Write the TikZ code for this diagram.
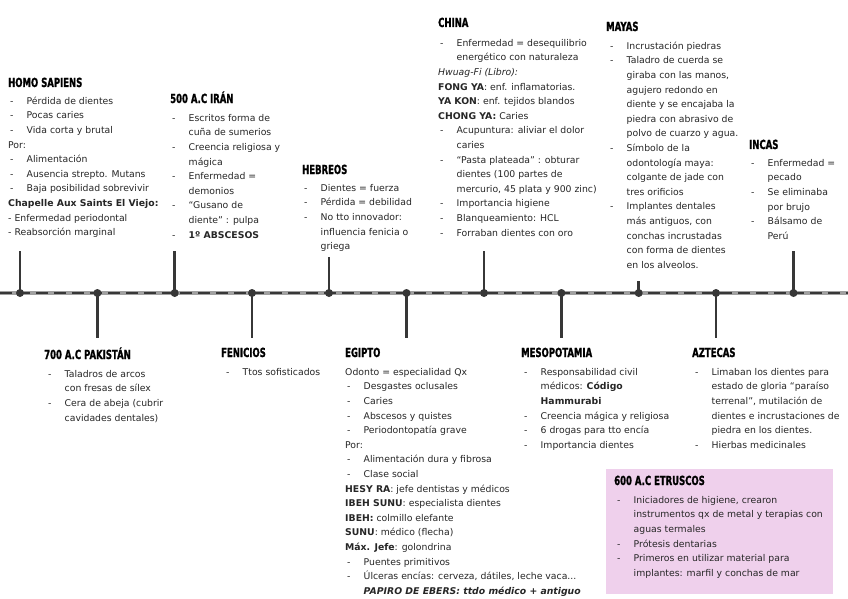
\documentclass[tikz,border=0pt]{standalone}
\usepackage{fontspec}
\setmainfont{DejaVu Sans}
\newfontfamily\titlefont{DejaVu Sans}[FakeStretch=0.68,FakeBold=1.2]
\definecolor{etr}{RGB}{239,208,236}
\definecolor{ink}{RGB}{38,38,38}
\definecolor{linegray}{RGB}{160,160,160}
\definecolor{dark}{RGB}{55,55,55}
\newcommand\itm{\makebox[18.5pt][l]{\hspace{2pt}-}}
\newcommand\cnt{\hspace*{18.5pt}}
\newcommand\fs{\rule{0pt}{10pt}}
\begin{document}
\begin{tikzpicture}[x=1pt,y=-1pt,
 ttl/.style={anchor=base west,inner sep=0pt,font=\titlefont\bfseries\fontsize{12.5}{14}\selectfont,text=black},
 body/.style={anchor=north west,inner sep=0pt,align=left,font=\fontsize{9.3}{14.6}\selectfont,text=ink},
 dot/.style={circle,fill=dark,inner sep=0pt,minimum size=8pt},
 tick/.style={draw=dark,line width=2.6pt},
 tl/.style={line width=3.5pt,draw=linegray},
 tldash/.style={line width=2.2pt,draw=dark,dash pattern=on 12pt off 6pt},
]
\useasboundingbox[fill=white] (0,0) rectangle (848,599);

% timeline
\coordinate (tlL) at (0,293);
\coordinate (tlR) at (848,293);
\draw[tl] (tlL) -- (tlR);
\draw[tldash] (tlL) -- (tlR);

% dots
\node[dot] (d0) at (20,293) {};
\node[dot] (d1) at (97.4,293) {};
\node[dot] (d2) at (174.7,293) {};
\node[dot] (d3) at (252,293) {};
\node[dot] (d4) at (329,293) {};
\node[dot] (d5) at (406.5,293) {};
\node[dot] (d6) at (484,293) {};
\node[dot] (d7) at (561.4,293) {};
\node[dot] (d8) at (638.7,293) {};
\node[dot] (d9) at (716,293) {};
\node[dot] (d10) at (793.5,293) {};

% tick ends
\coordinate (e0) at (20,251);
\coordinate (e1) at (97.4,338);
\coordinate (e2) at (174.7,251);
\coordinate (e3) at (252,338);
\coordinate (e4) at (329,257);
\coordinate (e5) at (406.5,338);
\coordinate (e6) at (484,251);
\coordinate (e7) at (561.4,338);
\coordinate (e8) at (638.7,281);
\coordinate (e9) at (716,338);
\coordinate (e10) at (793.5,251);
\foreach \i in {0,...,10} {\draw[tick] (d\i.center) -- (e\i);}

% HOMO SAPIENS
\node[ttl] (hs-t) at (8,87) {HOMO SAPIENS};
\node[body] (hs) at (8,94) {\fs\itm Pérdida de dientes\\
\itm Pocas caries\\
\itm Vida corta y brutal\\
Por:\\
\itm Alimentación\\
\itm Ausencia strepto. Mutans\\
\itm Baja posibilidad sobrevivir\\
\textbf{Chapelle Aux Saints El Viejo:}\\
- Enfermedad periodontal\\
- Reabsorción marginal};

% IRAN
\node[ttl] (ir-t) at (170,103) {500 A.C IRÁN};
\node[body] (ir) at (170,111) {\fs\itm Escritos forma de\\
\cnt cuña de sumerios\\
\itm Creencia religiosa y\\
\cnt mágica\\
\itm Enfermedad =\\
\cnt demonios\\
\itm “Gusano de\\
\cnt diente” : pulpa\\
\itm \textbf{1º ABSCESOS}};

% HEBREOS
\node[ttl] (he-t) at (302,174) {HEBREOS};
\node[body] (he) at (302,181) {\fs\itm Dientes = fuerza\\
\itm Pérdida = debilidad\\
\itm No tto innovador:\\
\cnt influencia fenicia o\\
\cnt griega};

% CHINA
\node[ttl] (ch-t) at (438,27) {CHINA};
\node[body] (ch) at (438,36) {\fs\itm Enfermedad = desequilibrio\\
\cnt energético con naturaleza\\
\textit{Hwuag-Fi (Libro):}\\
\textbf{FONG YA}: enf. inflamatorias.\\
\textbf{YA KON}: enf. tejidos blandos\\
\textbf{CHONG YA:} Caries\\
\itm Acupuntura: aliviar el dolor\\
\cnt caries\\
\itm “Pasta plateada” : obturar\\
\cnt dientes (100 partes de\\
\cnt mercurio, 45 plata y 900 zinc)\\
\itm Importancia higiene\\
\itm Blanqueamiento: HCL\\
\itm Forraban dientes con oro};

% MAYAS
\node[ttl] (ma-t) at (606,31) {MAYAS};
\node[body] (ma) at (608,39) {\fs\itm Incrustación piedras\\
\itm Taladro de cuerda se\\
\cnt giraba con las manos,\\
\cnt agujero redondo en\\
\cnt diente y se encajaba la\\
\cnt piedra con abrasivo de\\
\cnt polvo de cuarzo y agua.\\
\itm Símbolo de la\\
\cnt odontología maya:\\
\cnt colgante de jade con\\
\cnt tres orificios\\
\itm Implantes dentales\\
\cnt más antiguos, con\\
\cnt conchas incrustadas\\
\cnt con forma de dientes\\
\cnt en los alveolos.};

% INCAS
\node[ttl] (in-t) at (749,149) {INCAS};
\node[body] (in) at (749,156) {\fs\itm Enfermedad =\\
\cnt pecado\\
\itm Se eliminaba\\
\cnt por brujo\\
\itm Bálsamo de\\
\cnt Perú};

% PAKISTAN
\node[ttl] (pk-t) at (44,359) {700 A.C PAKISTÁN};
\node[body] (pk) at (46,367) {\fs\itm Taladros de arcos\\
\cnt con fresas de sílex\\
\itm Cera de abeja (cubrir\\
\cnt cavidades dentales)};

% FENICIOS
\node[ttl] (fe-t) at (221,357) {FENICIOS};
\node[body] (fe) at (224,365) {\fs\itm Ttos sofisticados};

% EGIPTO
\node[ttl] (eg-t) at (345,357) {EGIPTO};
\node[body] (eg) at (345,365) {\fs Odonto = especialidad Qx\\
\itm Desgastes oclusales\\
\itm Caries\\
\itm Abscesos y quistes\\
\itm Periodontopatía grave\\
Por:\\
\itm Alimentación dura y fibrosa\\
\itm Clase social\\
\textbf{HESY RA}: jefe dentistas y médicos\\
\textbf{IBEH SUNU}: especialista dientes\\
\textbf{IBEH:} colmillo elefante\\
\textbf{SUNU}: médico (flecha)\\
\textbf{Máx. Jefe}: golondrina\\
\itm Puentes primitivos\\
\itm Úlceras encías: cerveza, dátiles, leche vaca...\\
\cnt\textbf{\textit{PAPIRO DE EBERS: ttdo médico + antiguo}}};

% MESOPOTAMIA
\node[ttl] (me-t) at (521,357) {MESOPOTAMIA};
\node[body] (me) at (522,365) {\fs\itm Responsabilidad civil\\
\cnt médicos: \textbf{Código}\\
\cnt\textbf{Hammurabi}\\
\itm Creencia mágica y religiosa\\
\itm 6 drogas para tto encía\\
\itm Importancia dientes};

% AZTECAS
\node[ttl] (az-t) at (692,357) {AZTECAS};
\node[body] (az) at (693,365) {\fs\itm Limaban los dientes para\\
\cnt estado de gloria “paraíso\\
\cnt terrenal”, mutilación de\\
\cnt dientes e incrustaciones de\\
\cnt piedra en los dientes.\\
\itm Hierbas medicinales};

% ETRUSCOS
\node[fill=etr,inner sep=0pt,minimum width=227pt,minimum height=125pt,anchor=north west] (et-box) at (606,469) {};
\node[ttl] (et-t) at (614,485) {600 A.C ETRUSCOS};
\node[body] (et) at (615,493) {\fs\itm Iniciadores de higiene, crearon\\
\cnt instrumentos qx de metal y terapias con\\
\cnt aguas termales\\
\itm Prótesis dentarias\\
\itm Primeros en utilizar material para\\
\cnt implantes: marfil y conchas de mar};
\end{tikzpicture}
\end{document}
